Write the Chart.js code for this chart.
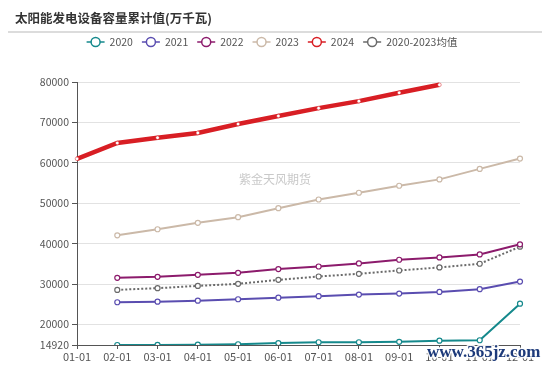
<!DOCTYPE html>
<html><head><meta charset="utf-8">
<script src="https://cdn.jsdelivr.net/npm/chart.js@4/dist/chart.umd.min.js"></script>
<style>html,body{margin:0;padding:0;background:#fff}#wrap{width:550px;height:365px;position:relative}</style>
</head><body><div id="wrap"><canvas id="c" width="550" height="365"></canvas></div>
<script>
const chartTitle = '太阳能发电设备容量累计值(万千瓦)';
const watermark1 = '紫金天风期货';
const watermark2 = 'www.365jz.com';
const categories = ['01-01','02-01','03-01','04-01','05-01','06-01','07-01','08-01','09-01','10-01','11-01','12-01'];
const seriesNames = ['2020','2021','2022','2023','2024','2020-2023均值'];
const v2020 = [null, 14920, 14950, 15000, 15100, 15400, 15600, 15600, 15700, 16000, 16100, 25150];
const v2021 = [null, 25500, 25650, 25900, 26240, 26640, 26990, 27400, 27640, 28060, 28730, 30620];
const v2022 = [null, 31540, 31790, 32290, 32790, 33700, 34350, 35100, 36020, 36600, 37340, 39830];
const v2023 = [null, 42060, 43560, 45150, 46540, 48780, 50920, 52590, 54330, 55900, 58500, 61050];
const v2024 = [61000, 64900, 66200, 67400, 69600, 71600, 73530, 75260, 77330, 79300, null, null];
const vAvg  = [null, 28560, 28980, 29550, 30050, 31040, 31870, 32540, 33360, 34110, 35020, 39250];
const yTicks = [14920, 20000, 30000, 40000, 50000, 60000, 70000, 80000];

const FONT = "'Noto Sans CJK SC','Noto Sans',sans-serif";
const colors = ['#15898c', '#5a4db0', '#8c1b6c', '#cbb9a8', '#d81e24', '#6a6a6a'];
const values = [v2020, v2021, v2022, v2023, v2024, vAvg];

const datasets = seriesNames.map((name, i) => {
  const is24 = i === 4, isAvg = i === 5;
  return {
    label: name,
    data: values[i],
    borderColor: colors[i],
    backgroundColor: colors[i],
    borderWidth: is24 ? 4.5 : 2,
    borderDash: isAvg ? [2, 2] : [],
    pointRadius: is24 ? 1.8 : 2.5,
    pointBorderWidth: is24 ? 0.5 : 1.2,
    pointBackgroundColor: '#fff',
    pointBorderColor: colors[i],
    tension: 0,
    spanGaps: false,
    order: is24 ? 0 : i + 1
  };
});

const decor = {
  id: 'decor',
  beforeDatasetsDraw(chart) {
    const ctx = chart.ctx;
    ctx.save();
    ctx.font = '12px ' + FONT;
    ctx.fillStyle = '#c9c9c9';
    ctx.textAlign = 'left';
    ctx.textBaseline = 'middle';
    ctx.fillText(watermark1, 239, 179);
    ctx.restore();
  },
  afterDraw(chart) {
    const ctx = chart.ctx;
    ctx.save();
    // title
    ctx.font = 'bold 12.5px ' + FONT;
    ctx.fillStyle = '#333';
    ctx.textAlign = 'left';
    ctx.textBaseline = 'middle';
    ctx.fillText(chartTitle, 15, 18);
    // separator
    ctx.strokeStyle = '#dcdcdc';
    ctx.lineWidth = 2;
    ctx.beginPath(); ctx.moveTo(8, 32); ctx.lineTo(542, 32); ctx.stroke();
    // legend
    ctx.font = '10.5px ' + FONT;
    const iconW = 18, gapT = 5, gapI = 9;
    const widths = seriesNames.map(n => iconW + gapT + ctx.measureText(n).width);
    const total = widths.reduce((a, b) => a + b, 0) + gapI * (seriesNames.length - 1);
    let x = 272 - total / 2;
    const y = 42;
    seriesNames.forEach((n, i) => {
      ctx.strokeStyle = colors[i];
      ctx.lineWidth = 1.5;
      ctx.beginPath(); ctx.moveTo(x, y); ctx.lineTo(x + iconW, y); ctx.stroke();
      ctx.beginPath(); ctx.arc(x + iconW / 2, y, 4.5, 0, Math.PI * 2);
      ctx.fillStyle = '#fff'; ctx.fill(); ctx.stroke();
      ctx.fillStyle = '#555';
      ctx.fillText(n, x + iconW + gapT, y + 0.5);
      x += widths[i] + gapI;
    });
    // site watermark
    ctx.font = 'bold 17px "Liberation Serif", serif';
    ctx.textBaseline = 'alphabetic';
    ctx.lineWidth = 3;
    ctx.strokeStyle = 'rgba(255,255,255,0.9)';
    ctx.strokeText(watermark2, 427, 357);
    ctx.fillStyle = '#1d3a7a';
    ctx.fillText(watermark2, 427, 357);
    ctx.restore();
  }
};

new Chart(document.getElementById('c'), {
  type: 'line',
  data: { labels: categories, datasets },
  options: {
    responsive: false,
    animation: false,
    devicePixelRatio: 1,
    layout: { padding: { left: 0, right: 30, top: 82, bottom: 0 } },
    plugins: { legend: { display: false }, title: { display: false }, tooltip: { enabled: false } },
    scales: {
      x: {
        type: 'category',
        offset: false,
        afterFit(s) { s.height = 20; },
        border: { display: true, color: '#555', width: 1 },
        grid: { drawOnChartArea: false, drawTicks: true, tickLength: 4, tickColor: '#555' },
        ticks: { autoSkip: false, maxRotation: 0, padding: 1, color: '#555', font: { size: 11, family: FONT } }
      },
      y: {
        min: 14920, max: 80000,
        afterFit(s) { s.width = 77; },
        afterBuildTicks(s) { s.ticks = yTicks.map(v => ({ value: v })); },
        border: { display: true, color: '#555', width: 1 },
        grid: { color: '#e2e2e2', lineWidth: 1, tickLength: 5, tickColor: '#555' },
        ticks: { padding: 3, color: '#555', font: { size: 10.5, family: FONT }, callback: v => String(v) }
      }
    }
  },
  plugins: [decor]
});
</script></body></html>
